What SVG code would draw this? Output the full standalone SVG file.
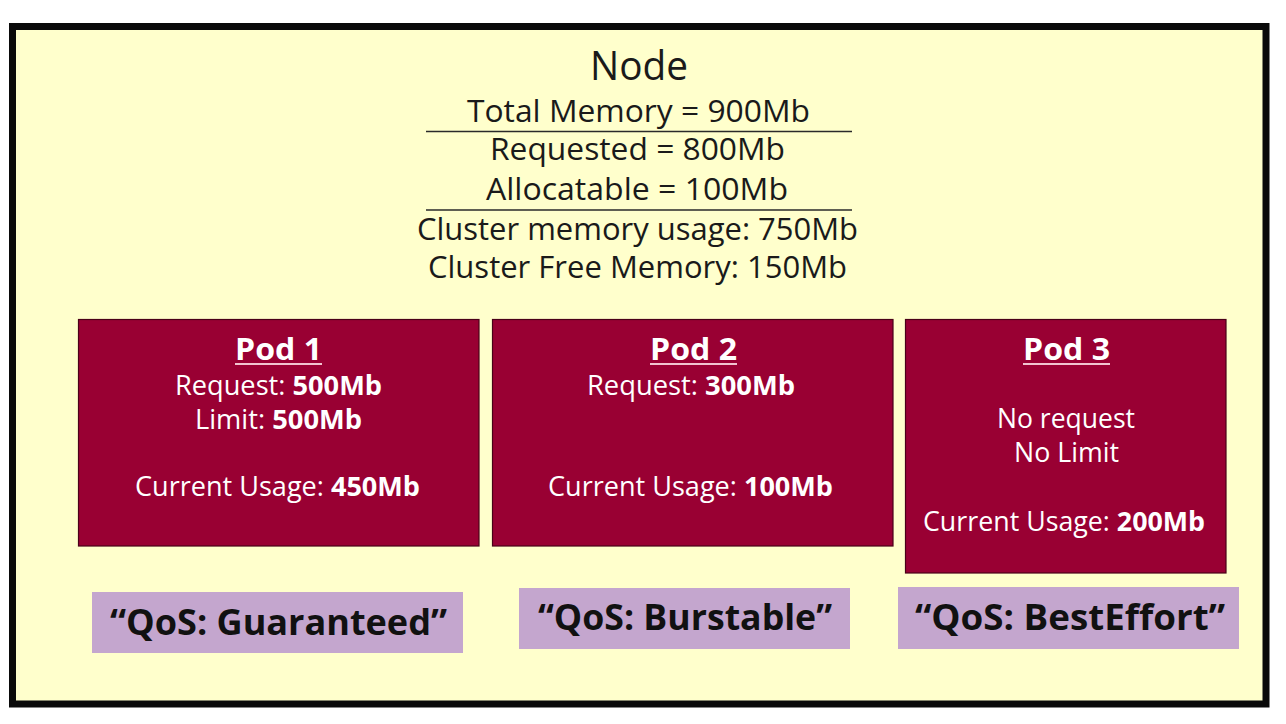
<svg xmlns="http://www.w3.org/2000/svg" width="1286" height="724" viewBox="0 0 1286 724">
<style>
.bg{fill:#FFFFCC;stroke:#0a0a0a;stroke-width:7}
.sep{stroke:#2a2a2a;stroke-width:1.6}
.nt{font-family:"Open Sans","Noto Sans","Liberation Sans",sans-serif;fill:#1a1a1a;text-anchor:middle;font-size:31px}
.title{font-size:40px}
.pod{fill:#990033;stroke:#4a0018;stroke-width:1.2}
.pt{font-family:"Open Sans","Noto Sans","Liberation Sans",sans-serif;fill:#ffffff;text-anchor:middle;font-size:26.5px}
.ptt{font-weight:bold;font-size:30px}
.b{font-weight:bold}
.ul{stroke:#f2c4d0;stroke-width:2}
.qos{fill:#C4A6CE}
.qt{font-family:"Open Sans","Noto Sans","Liberation Sans",sans-serif;font-weight:bold;font-size:35px;fill:#111111;text-anchor:middle}
</style>
<rect x="0" y="0" width="1286" height="724" fill="#ffffff"/>
<g id="node">
<rect class="bg" x="12.5" y="26.5" width="1253.5" height="677.5"/>
<text class="nt title" x="639" y="80" textLength="98" lengthAdjust="spacingAndGlyphs">Node</text>
<text class="nt" x="638.5" y="122" textLength="343" lengthAdjust="spacingAndGlyphs">Total Memory = 900Mb</text>
<line class="sep" x1="426" y1="131.5" x2="852" y2="131.5"/>
<text class="nt" x="637.5" y="160" textLength="295" lengthAdjust="spacingAndGlyphs">Requested = 800Mb</text>
<text class="nt" x="637" y="200" textLength="302" lengthAdjust="spacingAndGlyphs">Allocatable = 100Mb</text>
<line class="sep" x1="426" y1="210" x2="852" y2="210"/>
<text class="nt" x="637.5" y="240" textLength="441" lengthAdjust="spacingAndGlyphs">Cluster memory usage: 750Mb</text>
<text class="nt" x="637.5" y="278" textLength="419" lengthAdjust="spacingAndGlyphs">Cluster Free Memory: 150Mb</text>
</g>
<g id="pod1">
<rect class="pod" x="78.5" y="319.5" width="400.5" height="226.5"/>
<text class="pt ptt" x="278.5" y="360" textLength="87" lengthAdjust="spacingAndGlyphs">Pod 1</text>
<line class="ul" x1="235" y1="364" x2="322" y2="364"/>
<text class="pt" x="278.5" y="395" textLength="207" lengthAdjust="spacingAndGlyphs">Request: <tspan class="b">500Mb</tspan></text>
<text class="pt" x="278.5" y="429" textLength="167" lengthAdjust="spacingAndGlyphs">Limit: <tspan class="b">500Mb</tspan></text>
<text class="pt" x="277.5" y="496" textLength="285" lengthAdjust="spacingAndGlyphs">Current Usage: <tspan class="b">450Mb</tspan></text>
</g>
<g id="pod2">
<rect class="pod" x="492.5" y="319.5" width="400.5" height="226.5"/>
<text class="pt ptt" x="693.5" y="360" textLength="87" lengthAdjust="spacingAndGlyphs">Pod 2</text>
<line class="ul" x1="650" y1="364" x2="737" y2="364"/>
<text class="pt" x="691" y="395" textLength="208" lengthAdjust="spacingAndGlyphs">Request: <tspan class="b">300Mb</tspan></text>
<text class="pt" x="690.5" y="496" textLength="285" lengthAdjust="spacingAndGlyphs">Current Usage: <tspan class="b">100Mb</tspan></text>
</g>
<g id="pod3">
<rect class="pod" x="905.5" y="319.5" width="320.5" height="253.5"/>
<text class="pt ptt" x="1066.5" y="360" textLength="87" lengthAdjust="spacingAndGlyphs">Pod 3</text>
<line class="ul" x1="1023" y1="364" x2="1110" y2="364"/>
<text class="pt" x="1066" y="428" textLength="138" lengthAdjust="spacingAndGlyphs">No request</text>
<text class="pt" x="1066.5" y="462" textLength="105" lengthAdjust="spacingAndGlyphs">No Limit</text>
<text class="pt" x="1064" y="531" textLength="282" lengthAdjust="spacingAndGlyphs">Current Usage: <tspan class="b">200Mb</tspan></text>
</g>
<g id="qos1">
<rect class="qos" x="92" y="592" width="371" height="61"/>
<text class="qt" x="278.5" y="635" textLength="337" lengthAdjust="spacingAndGlyphs">“QoS: Guaranteed”</text>
</g>
<g id="qos2">
<rect class="qos" x="519" y="588" width="331" height="61"/>
<text class="qt" x="685" y="630" textLength="294" lengthAdjust="spacingAndGlyphs">“QoS: Burstable”</text>
</g>
<g id="qos3">
<rect class="qos" x="898" y="587" width="341" height="62"/>
<text class="qt" x="1070" y="630" textLength="310" lengthAdjust="spacingAndGlyphs">“QoS: BestEffort”</text>
</g>
<g id="connectors"/>
</svg>
